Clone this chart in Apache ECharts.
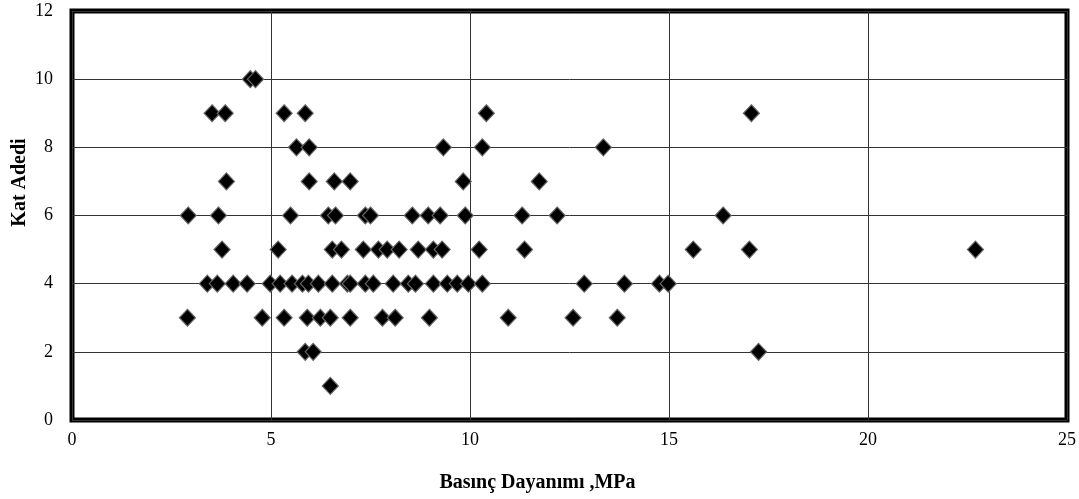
<!DOCTYPE html>
<html>
<head>
<meta charset="utf-8">
<script src="https://cdn.jsdelivr.net/npm/echarts@6/dist/echarts.min.js"></script>
<style>html,body{margin:0;padding:0;background:#fff;}#c{width:1079px;height:499px;}</style>
</head>
<body>
<div id="c"></div>
<script>
// Basınç Dayanımı (MPa) values, grouped by Kat Adedi (floor count)
const floors = [10, 9, 8, 7, 6, 5, 4, 3, 2, 1];
const strengthByFloor = {
  10: [4.48, 4.61],
  9: [3.52, 3.85, 5.33, 5.86, 10.41, 17.07],
  8: [5.64, 5.96, 9.33, 10.31, 13.35],
  7: [3.88, 5.96, 6.59, 6.99, 9.83, 11.74],
  6: [2.92, 3.68, 5.49, 6.44, 6.62, 7.37, 7.50, 8.55, 8.95, 9.25, 9.88, 11.31, 12.19, 16.36],
  5: [3.77, 5.18, 6.54, 6.77, 7.32, 7.70, 7.92, 8.22, 8.70, 9.08, 9.30, 10.23, 11.37, 15.61, 17.02, 22.70],
  4: [3.40, 3.65, 4.05, 4.40, 4.98, 5.23, 5.53, 5.79, 5.94, 6.19, 6.54, 6.92, 6.99, 7.37, 7.57, 8.07, 8.45, 8.63, 9.08, 9.43, 9.68, 9.96, 10.31, 12.87, 13.88, 14.76, 14.98],
  3: [2.90, 4.78, 5.33, 5.91, 6.24, 6.49, 6.99, 7.80, 8.12, 8.98, 10.96, 12.59, 13.70],
  2: [5.86, 6.06, 17.25],
  1: [6.49]
};
const xTicks = [0, 5, 10, 15, 20, 25];
const yTicks = [0, 2, 4, 6, 8, 10, 12];
const xName = 'Basınç Dayanımı ,MPa';
const yName = 'Kat Adedi';

const points = [];
floors.forEach(f => strengthByFloor[f].forEach(x => points.push([x, f])));

const chart = echarts.init(document.getElementById('c'), null, {renderer: 'canvas'});
const font = '"Liberation Serif", "DejaVu Serif", serif';
chart.setOption({
  animation: false,
  backgroundColor: '#fff',
  grid: {left: 72, right: 12, top: 11, bottom: 79, outerBoundsMode: 'none', containLabel: false,
         show: true, borderColor: '#000', borderWidth: 5, backgroundColor: 'transparent'},
  xAxis: {
    type: 'value', min: xTicks[0], max: xTicks[xTicks.length - 1], interval: 5,
    axisLine: {show: false}, axisTick: {show: false},
    splitLine: {show: true, lineStyle: {color: '#333', width: 1}},
    axisLabel: {fontFamily: font, fontSize: 18, color: '#000', margin: 11},
    name: xName, nameLocation: 'middle', nameGap: 53,
    nameTextStyle: {fontFamily: font, fontSize: 20, fontWeight: 'bold', color: '#000', padding: [0, 64, 0, 0]}
  },
  yAxis: {
    type: 'value', min: yTicks[0], max: yTicks[yTicks.length - 1], interval: 2,
    axisLine: {show: false}, axisTick: {show: false},
    splitLine: {show: true, lineStyle: {color: '#333', width: 1}},
    axisLabel: {fontFamily: font, fontSize: 18, color: '#000', margin: 19},
    name: yName, nameLocation: 'middle', nameGap: 42, nameMoveOverlap: false,
    nameTextStyle: {fontFamily: font, fontSize: 20, fontWeight: 'bold', color: '#000', padding: [0, 0, 0, 66]}
  },
  series: [{
    type: 'scatter',
    data: points,
    symbol: 'diamond',
    symbolSize: [16, 17],
    itemStyle: {color: '#000', borderColor: '#666', borderWidth: 1.2, opacity: 1}
  }]
});
</script>
</body>
</html>
